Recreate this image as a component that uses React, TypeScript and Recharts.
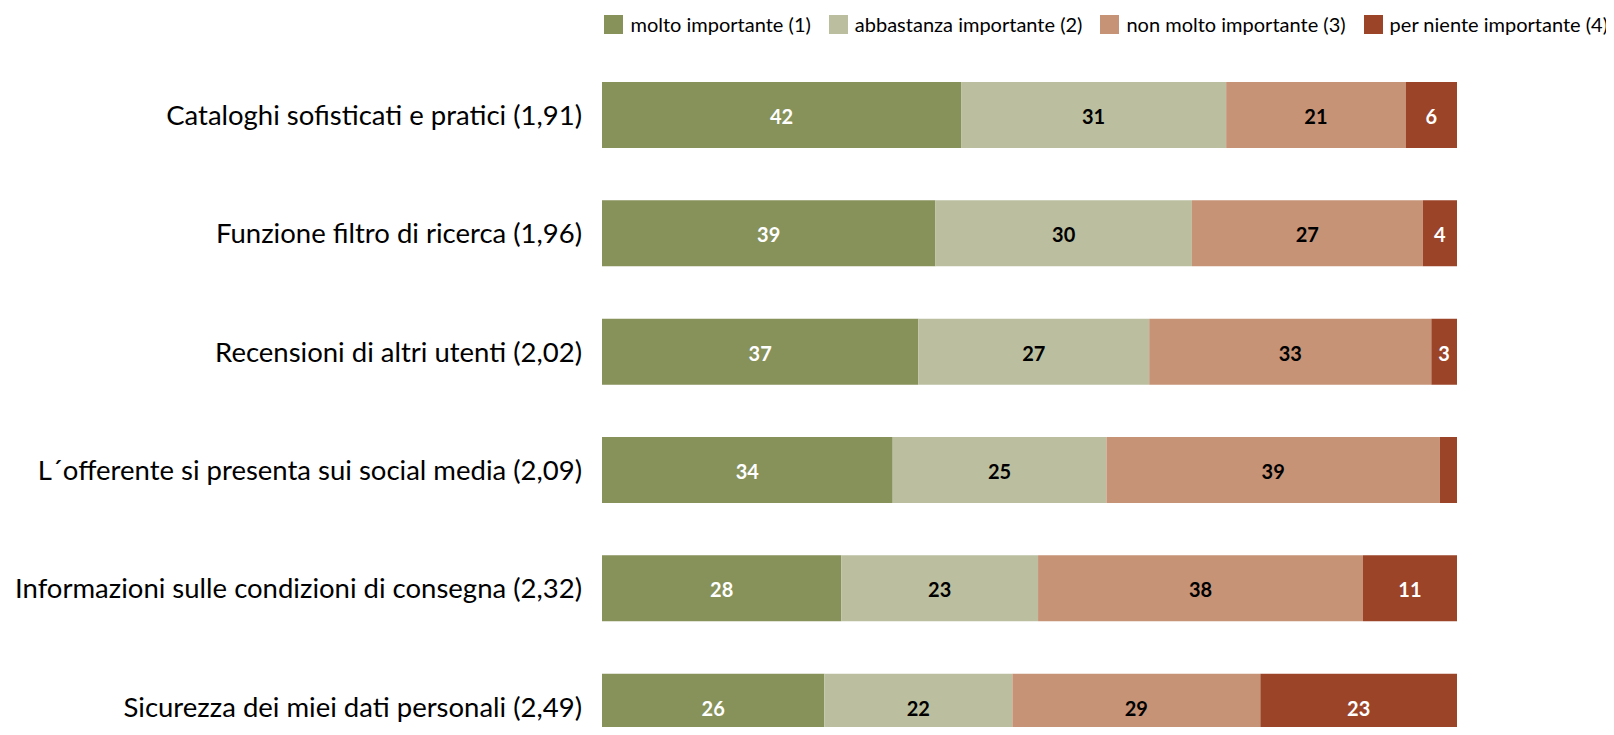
import React from 'react';
import { BarChart, Bar, XAxis, YAxis, LabelList } from 'recharts';

const categories = [
  'Cataloghi sofisticati e pratici (1,91)',
  'Funzione filtro di ricerca (1,96)',
  'Recensioni di altri utenti (2,02)',
  'L´offerente si presenta sui social media (2,09)',
  'Informazioni sulle condizioni di consegna (2,32)',
  'Sicurezza dei miei dati personali (2,49)',
];

const molto = [42, 39, 37, 34, 28, 26];
const abbastanza = [31, 30, 27, 25, 23, 22];
const nonMolto = [21, 27, 33, 39, 38, 29];
const perNiente = [6, 4, 3, 2, 11, 23];

const seriesNames = [
  'molto importante (1)',
  'abbastanza importante (2)',
  'non molto importante (3)',
  'per niente importante (4)',
];
const seriesColors = ['#87915A', '#BBBF9F', '#C79377', '#9B4428'];
const labelColors = ['#ffffff', '#000000', '#000000', '#ffffff'];
const keys = ['a', 'b', 'c', 'd'];

const data = categories.map((name, i) => ({
  name,
  a: molto[i],
  b: abbastanza[i],
  c: nonMolto[i],
  d: perNiente[i],
}));

const FONT = 'Lato, "Open Sans", sans-serif';

const makeLabel = (color: string) => (props: any) => {
  const { x, y, width, height, value } = props;
  if (width < 20) return null;
  return (
    <text
      x={x + width / 2}
      y={y + height / 2 + 1}
      textAnchor="middle"
      dominantBaseline="central"
      fill={color}
      fontFamily={FONT}
      fontWeight={700}
      fontSize={20}
    >
      {value}
    </text>
  );
};

// legend row, right-aligned near the page edge
const LegendRow = () => (
  <div
    style={{
      position: 'absolute',
      top: 12,
      right: 6,
      display: 'flex',
      alignItems: 'center',
      fontFamily: FONT,
      fontSize: 20,
      lineHeight: '24px',
      color: '#000',
      whiteSpace: 'nowrap',
    }}
  >
    {seriesNames.map((n, i) => (
      <div key={n} style={{ display: 'flex', alignItems: 'center', marginLeft: i === 0 ? 0 : 18 }}>
        <span style={{ width: 19, height: 19, background: seriesColors[i], display: 'inline-block', marginRight: 7 }} />
        <span>{n}</span>
      </div>
    ))}
  </div>
);

export default function App() {
  return (
    <div style={{ margin: -8, width: 1614, height: 735, overflow: 'hidden', background: '#fff', position: 'relative' }}>
      <BarChart
        width={1614}
        height={770}
        data={data}
        layout="vertical"
        margin={{ top: 56, right: 157, left: 0, bottom: 4 }}
      >
        <XAxis type="number" domain={[0, 100]} hide />
        <YAxis
          type="category"
          dataKey="name"
          width={602}
          axisLine={false}
          tickLine={false}
          tickSize={0}
          tickMargin={20}
          tick={{ fill: '#000', fontSize: 27.5, fontFamily: FONT }}
        />
        {keys.map((k, i) => (
          <Bar
            key={k}
            dataKey={k}
            name={seriesNames[i]}
            stackId="s"
            fill={seriesColors[i]}
            barSize={66}
            isAnimationActive={false}
          >
            <LabelList dataKey={k} content={makeLabel(labelColors[i])} />
          </Bar>
        ))}
      </BarChart>
      <LegendRow />
    </div>
  );
}
